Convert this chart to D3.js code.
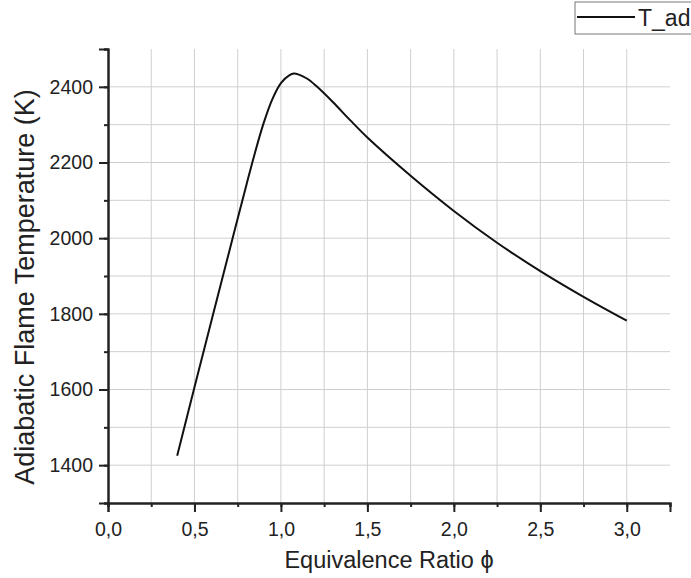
<head>
    <meta charset="utf-8" />
    <script src="https://d3js.org/d3.v7.min.js"></script>
</head>
<style>
    body { margin: 0; background: #fff; }
    text { font-family: "Liberation Sans", Arial, sans-serif; fill: #222; }
</style>
<body>
</body>
<script>
// values
var phi  = [0.4, 0.5, 0.6, 0.7, 0.8, 0.85, 0.9, 0.95, 1.0, 1.05, 1.075, 1.1, 1.15, 1.2, 1.3, 1.4, 1.5, 1.75, 2.0, 2.25, 2.5, 2.75, 3.0];
var tad  = [1425, 1606, 1785, 1963, 2140, 2226, 2304, 2367, 2410, 2431, 2435, 2433, 2422, 2404, 2360, 2312, 2266, 2165, 2072, 1988, 1913, 1845, 1782];
var xTicks = [0, 0.5, 1, 1.5, 2, 2.5, 3];
var yTicks = [1400, 1600, 1800, 2000, 2200, 2400];
var seriesName = "T_ad";

var svg = d3.select("body").append("svg")
    .attr("width", 691)
    .attr("height", 578);

var x = d3.scaleLinear().domain([0, 3.25]).range([108, 670]);
var y = d3.scaleLinear().domain([1300, 2500]).range([503, 49]);

// grid
var grid = svg.append("g").attr("stroke", "#cfcfcf").attr("stroke-width", 1);
grid.selectAll("line.v")
    .data(d3.range(1, 13).map(function (i) { return i * 0.25; }))
    .enter().append("line")
    .attr("x1", function (d) { return x(d); })
    .attr("x2", function (d) { return x(d); })
    .attr("y1", y(1300)).attr("y2", y(2500));
grid.selectAll("line.h")
    .data(d3.range(14, 25).map(function (i) { return i * 100; }))
    .enter().append("line")
    .attr("y1", function (d) { return y(d); })
    .attr("y2", function (d) { return y(d); })
    .attr("x1", x(0)).attr("x2", x(3.25));

var fmt = function (d) { return d3.format(".1f")(d).replace(".", ","); };

// minor ticks
var xMinor = svg.append("g")
    .attr("transform", "translate(0," + y(1300) + ")")
    .call(d3.axisBottom(x).tickValues(d3.range(0, 14).map(function (i) { return i * 0.25; })).tickSize(4).tickFormat(""));
var yMinor = svg.append("g")
    .attr("transform", "translate(" + x(0) + ",0)")
    .call(d3.axisLeft(y).tickValues(d3.range(13, 26).map(function (i) { return i * 100; })).tickSize(4).tickFormat(""));

// major ticks
var xAxis = svg.append("g")
    .attr("transform", "translate(0," + y(1300) + ")")
    .call(d3.axisBottom(x).tickValues(xTicks).tickSize(9).tickPadding(10).tickFormat(fmt));
var yAxis = svg.append("g")
    .attr("transform", "translate(" + x(0) + ",0)")
    .call(d3.axisLeft(y).tickValues(yTicks).tickSize(9).tickPadding(6).tickFormat(d3.format("d")));

[xMinor, yMinor, xAxis, yAxis].forEach(function (g) {
    g.selectAll("path").attr("stroke", "#222").attr("stroke-width", 2);
    g.selectAll("line").attr("stroke", "#222").attr("stroke-width", 2);
    g.selectAll("text").style("font-size", "19.5px").attr("fill", "#222");
});

// curve
var pts = phi.map(function (p, i) { return [p, tad[i]]; });
svg.append("path")
    .datum(pts)
    .attr("fill", "none")
    .attr("stroke", "#111")
    .attr("stroke-width", 2)
    .attr("d", d3.line()
        .x(function (d) { return x(d[0]); })
        .y(function (d) { return y(d[1]); })
        .curve(d3.curveCatmullRom.alpha(0.5)));

// axis titles
svg.append("text")
    .attr("x", 389)
    .attr("y", 568)
    .attr("text-anchor", "middle")
    .style("font-size", "23.5px")
    .text("Equivalence Ratio \u03d5");
svg.append("text")
    .attr("transform", "translate(34,287) rotate(-90)")
    .attr("text-anchor", "middle")
    .style("font-size", "27px")
    .text("Adiabatic Flame Temperature (K)");

// legend
var leg = svg.append("g");
leg.append("rect")
    .attr("x", 575).attr("y", 2)
    .attr("width", 130).attr("height", 32)
    .attr("fill", "#fff").attr("stroke", "#777").attr("stroke-width", 1);
leg.append("line")
    .attr("x1", 577).attr("x2", 635)
    .attr("y1", 17).attr("y2", 17)
    .attr("stroke", "#111").attr("stroke-width", 2);
leg.append("text")
    .attr("x", 638).attr("y", 26)
    .style("font-size", "23px")
    .text(seriesName);
</script>
